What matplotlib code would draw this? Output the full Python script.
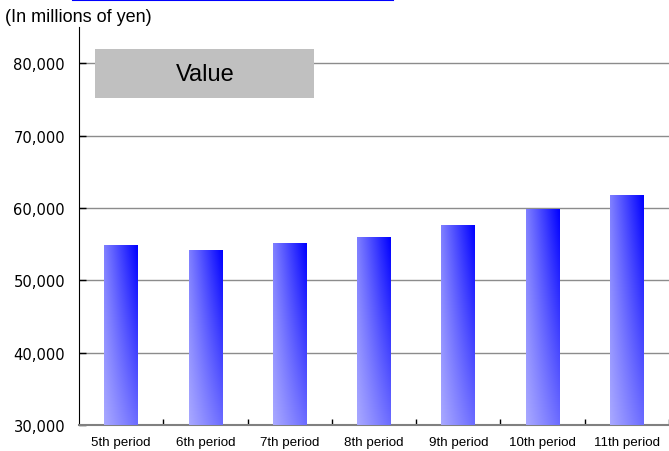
import numpy as np
import matplotlib
matplotlib.use("Agg")
import matplotlib.pyplot as plt
from matplotlib.lines import Line2D
from matplotlib.patches import Rectangle

periods = ["5th period", "6th period", "7th period", "8th period",
           "9th period", "10th period", "11th period"]
values = [54900, 54200, 55180, 56000, 57680, 59900, 61850]
yticks = [30000, 40000, 50000, 60000, 70000, 80000]

plt.rcParams["font.family"] = ["Liberation Sans", "DejaVu Sans"]

fig = plt.figure(figsize=(6.69, 4.52), dpi=100)
ax = fig.add_axes([79 / 669, 26 / 452, 590 / 669, 398 / 452])

ymin, ymax = 30000, 85000
x = np.arange(len(periods))
bars = ax.bar(x, np.array(values) - ymin, bottom=ymin, width=0.4,
              color="none", edgecolor="none", zorder=3)

# bilinear blue gradient: pale lower-left to pure blue upper-right
n = 64
u = np.linspace(0, 1, n)
U, V = np.meshgrid(u, u)
bl, br, tl, tr = 0.66, 0.42, 0.50, 0.0
light = bl * (1 - U) * (1 - V) + br * U * (1 - V) + tl * (1 - U) * V + tr * U * V
grad = np.dstack([light, light, np.ones_like(light)])

for b in bars:
    x0, y0 = b.get_x(), b.get_y()
    w, h = b.get_width(), b.get_height()
    im = ax.imshow(grad, extent=[x0, x0 + w, y0, y0 + h], origin="lower",
                   aspect="auto", interpolation="bilinear", zorder=3)
    im.set_clip_path(b)

ax.set_xlim(-0.5, len(periods) - 0.5)
ax.set_ylim(ymin, ymax)

ax.set_yticks(yticks)
ax.set_yticklabels([f"{v:,}" for v in yticks], fontsize=10.6,
                   family="DejaVu Sans")
ax.tick_params(axis="y", direction="in", length=5, width=1, color="black", pad=10)

ax.set_xticks(x)
ax.set_xticklabels(periods, fontsize=9.6)
ax.tick_params(axis="x", which="major", length=0, pad=8)
ax.set_xticks(np.arange(len(periods)) + 0.5, minor=True)
ax.tick_params(axis="x", which="minor", direction="in", length=4, width=1, color="black")

ax.grid(axis="y", color="#8c8c8c", linewidth=1, zorder=1)
ax.set_axisbelow(True)

for s in ["top", "right"]:
    ax.spines[s].set_visible(False)
ax.spines["left"].set_color("black")
ax.spines["bottom"].set_color("#808080")
ax.spines["bottom"].set_linewidth(1.5)

# legend-like label box
ax.add_patch(Rectangle((95 / 669, 1 - 99 / 452), 219 / 669, 49 / 452,
                       transform=fig.transFigure, facecolor="#c0c0c0",
                       edgecolor="none", zorder=5))
fig.text(205 / 669, 1 - 75 / 452, "Value", fontsize=17,
         ha="center", va="center", zorder=6)

fig.text(5 / 669, 1 - 18 / 452, "(In millions of yen)", fontsize=13,
         ha="left", va="center")

fig.add_artist(Line2D([73 / 669, 393 / 669], [1 - 1 / 452, 1 - 1 / 452],
                      color="#0000ff", linewidth=1.5))

fig.savefig("out.png", dpi=100)
